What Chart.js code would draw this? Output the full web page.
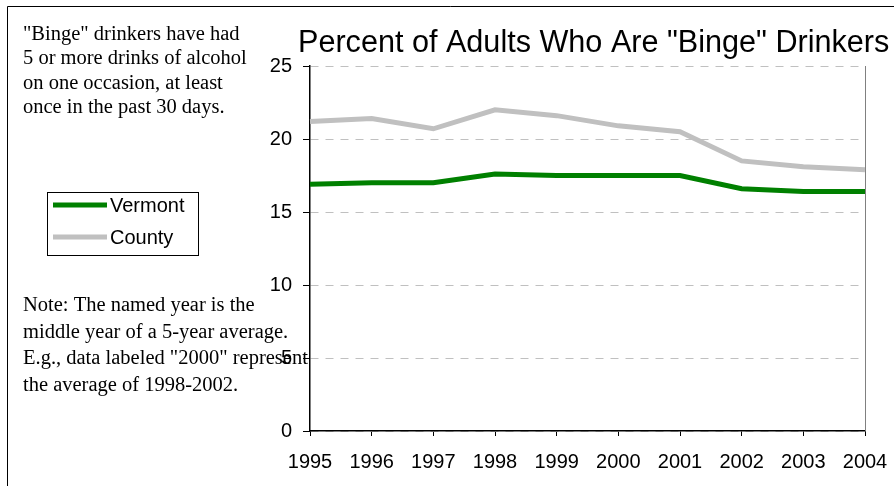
<!DOCTYPE html>
<html>
<head>
<meta charset="utf-8">
<script src="https://cdn.jsdelivr.net/npm/chart.js@4/dist/chart.umd.min.js"></script>
<style>
html,body{margin:0;padding:0;background:#fff;}
canvas{display:block;}
</style>
</head>
<body>
<canvas id="c" width="894" height="487"></canvas>
<script>
const years = ["1995","1996","1997","1998","1999","2000","2001","2002","2003","2004"];
const vermont = [16.9, 17.0, 17.0, 17.6, 17.5, 17.5, 17.5, 16.6, 16.4, 16.4];
const county  = [21.2, 21.4, 20.7, 22.0, 21.6, 20.9, 20.5, 18.5, 18.1, 17.9];
const yTicks = [0, 5, 10, 15, 20, 25];
const seriesNames = ["Vermont", "County"];
const seriesColors = ["#008000", "#c0c0c0"];
const titleText = 'Percent of Adults Who Are "Binge" Drinkers';
const topNote = ['"Binge" drinkers have had', '5 or more drinks of alcohol', 'on one occasion, at least', 'once in the past 30 days.'];
const bottomNote = ['Note: The named year is the', 'middle year of a 5-year average.', 'E.g., data labeled "2000" represent', 'the average of 1998-2002.'];

const SANS = '"Liberation Sans", Arial, sans-serif';
const SERIF = '"Liberation Serif", "Times New Roman", serif';

const extras = {
  id: 'extras',
  beforeDraw(chart) {
    const ctx = chart.ctx;
    ctx.save();
    ctx.fillStyle = '#fff';
    ctx.fillRect(0, 0, chart.width, chart.height);
    ctx.restore();
  },
  afterDraw(chart) {
    const ctx = chart.ctx;
    const a = chart.chartArea;
    ctx.save();
    // outer frame (left and top)
    ctx.strokeStyle = '#000';
    ctx.lineWidth = 1;
    ctx.beginPath();
    ctx.moveTo(7.5, 486);
    ctx.lineTo(7.5, 6.5);
    ctx.lineTo(894, 6.5);
    ctx.stroke();
    // right border of plot
    ctx.strokeStyle = '#808080';
    ctx.beginPath();
    ctx.moveTo(Math.round(a.right) + 0.5, a.top);
    ctx.lineTo(Math.round(a.right) + 0.5, a.bottom);
    ctx.stroke();
    // title
    ctx.fillStyle = '#000';
    ctx.font = '30.6px ' + SANS;
    ctx.textAlign = 'left';
    ctx.textBaseline = 'alphabetic';
    ctx.fillText(titleText, 298, 52);
    // notes
    ctx.font = '20.5px ' + SERIF;
    topNote.forEach((t, i) => ctx.fillText(t, 23, 40 + i * 24.3));
    bottomNote.forEach((t, i) => ctx.fillText(t, 23, 311 + i * 26.5));
    // legend
    ctx.strokeStyle = '#000';
    ctx.lineWidth = 1;
    ctx.strokeRect(47.5, 192.5, 151, 63);
    const ly = [205, 237];
    chart.data.datasets.forEach((ds, i) => {
      ctx.strokeStyle = ds.borderColor;
      ctx.lineWidth = 5;
      ctx.beginPath();
      ctx.moveTo(53, ly[i]);
      ctx.lineTo(107, ly[i]);
      ctx.stroke();
      ctx.fillStyle = '#000';
      ctx.font = '20px ' + SANS;
      ctx.textBaseline = 'middle';
      ctx.fillText(ds.label, 110, ly[i] + 1);
    });
    ctx.restore();
  }
};

new Chart(document.getElementById('c'), {
  type: 'line',
  data: {
    labels: years,
    datasets: [
      { label: seriesNames[0], data: vermont, borderColor: seriesColors[0], backgroundColor: seriesColors[0], borderWidth: 5, pointRadius: 0, tension: 0, order: 1 },
      { label: seriesNames[1], data: county, borderColor: seriesColors[1], backgroundColor: seriesColors[1], borderWidth: 5, pointRadius: 0, tension: 0, order: 2 }
    ]
  },
  options: {
    responsive: false,
    animation: false,
    layout: { padding: { top: 66, right: 29, bottom: 0, left: 0 } },
    plugins: { legend: { display: false }, title: { display: false }, tooltip: { enabled: false } },
    scales: {
      x: {
        type: 'category',
        offset: false,
        grid: { drawOnChartArea: false, drawTicks: true, tickLength: 5, tickColor: '#000', tickWidth: 1 },
        border: { color: '#000', width: 1.5 },
        ticks: { color: '#000', font: { family: SANS, size: 20 }, padding: 14, maxRotation: 0, autoSkip: false },
        afterFit: s => { s.height = 56; s.paddingLeft = 0; s.paddingRight = 0; }
      },
      y: {
        min: 0, max: 25,
        afterBuildTicks: s => { s.ticks = yTicks.map(v => ({ value: v })); },
        grid: { color: '#c0c0c0', lineWidth: 1, drawTicks: true, tickLength: 7, tickColor: '#000', tickWidth: 1, tickBorderDash: [] },
        border: { color: '#000', width: 1.5, dash: [8, 7] },
        ticks: { color: '#000', font: { family: SANS, size: 20 }, padding: 11 },
        afterFit: s => { s.width = 310; s.paddingTop = 0; s.paddingBottom = 0; }
      }
    }
  },
  plugins: [extras]
});
</script>
</body>
</html>
